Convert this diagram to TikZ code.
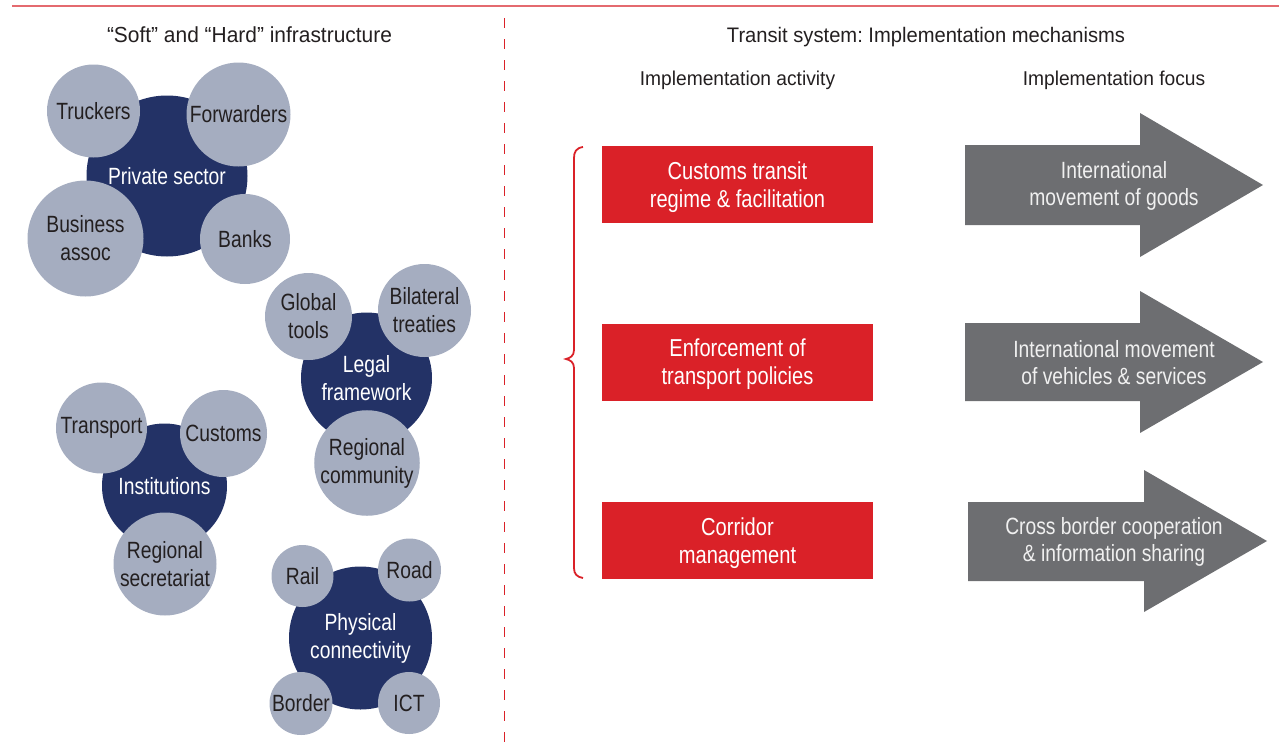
\documentclass[tikz,border=0pt]{standalone}
\usepackage{fontspec}
\setmainfont{Liberation Sans}
\newfontfamily\condf[FakeStretch=0.82]{Liberation Sans}
\newfontfamily\headf[FakeStretch=0.96]{Liberation Sans}
\definecolor{navyc}{HTML}{233266}
\definecolor{lightc}{HTML}{A5ADC0}
\definecolor{redc}{HTML}{DA2128}
\definecolor{grayc}{HTML}{6D6E71}
\definecolor{txtc}{HTML}{231F20}
\definecolor{toplinec}{HTML}{E46A6F}
\definecolor{arrtxt}{HTML}{F0F0F0}
\frenchspacing
\begin{document}
\begin{tikzpicture}[x=1pt,y=-1pt,
  hub/.style={circle, fill=navyc, text=white, inner sep=0pt, align=center, font=\condf\fontsize{23.5}{28}\selectfont},
  sat/.style={circle, fill=lightc, text=txtc, inner sep=0pt, align=center, font=\condf\fontsize{23.5}{28}\selectfont},
  actbox/.style={rectangle, fill=redc, text=white, minimum width=271pt, minimum height=77pt, inner sep=0pt, text depth=0pt, align=center, font=\condf\fontsize{24.5}{28}\selectfont},
  focusarrow/.style={fill=grayc},
  focustext/.style={text=arrtxt, align=center, inner sep=0pt, font=\condf\fontsize{23.5}{27}\selectfont},
  headtext/.style={anchor=base, inner sep=0pt, text=txtc, font=\headf\fontsize{21}{25}\selectfont},
  subhead/.style={anchor=base, inner sep=0pt, text=txtc, font=\headf\fontsize{20}{24}\selectfont},
  dashline/.style={draw=redc, line width=1.6pt, dash pattern=on 10pt off 11pt},
  bracestyle/.style={draw=redc, line width=1.8pt}
]
\useasboundingbox (0,0) rectangle (1279,750);

% top rule and divider
\coordinate (tl) at (12,6);
\coordinate (tr) at (1279,6);
\draw[toplinec, line width=1.8pt] (tl) -- (tr);
\coordinate (dtop) at (504.5,18);
\coordinate (dbot) at (504.5,750);
\draw[dashline] (dtop) -- (dbot);

% headers
\node[headtext, font=\headf\fontsize{21.8}{25}\selectfont] (h1) at (249.5,42) {“Soft” and “Hard” infrastructure};
\node[headtext] (h2) at (926,42) {Transit system: Implementation mechanisms};
\node[subhead] (h3) at (737.5,85) {Implementation activity};
\node[subhead] (h4) at (1114,85) {Implementation focus};

% Private sector cluster
\node[hub, minimum size=161pt] (priv) at (167,176) {Private sector};
\node[sat, minimum size=93pt] (truck) at (93.5,111) {Truckers};
\node[sat, minimum size=104pt] (forw) at (238.5,114.5) {Forwarders};
\node[sat, minimum size=116pt] (busi) at (85.5,238.5) {Business\\assoc};
\node[sat, minimum size=90pt] (bank) at (245,239) {Banks};

% Legal framework cluster
\node[hub, minimum size=131pt] (legal) at (366.5,378) {Legal\\framework};
\node[sat, minimum size=87pt] (glob) at (308.5,316.5) {Global\\tools};
\node[sat, minimum size=93pt] (bilat) at (424.5,310.5) {Bilateral\\treaties};
\node[sat, minimum size=100pt] (regcom) at (367,463) {Regional\\community};

% Institutions cluster
\node[hub, minimum size=125pt] (inst) at (164.5,486) {Institutions};
\node[sat, minimum size=91pt] (trans) at (101.5,428) {Transport};
\node[sat, minimum size=87pt] (cust) at (223.5,433.5) {Customs};
\node[sat, minimum size=103pt] (regsec) at (165,564) {Regional\\secretariat};

% Physical connectivity cluster
\node[hub, minimum size=143pt] (phys) at (360.5,638) {Physical\\connectivity};
\node[sat, minimum size=62pt] (rail) at (302.5,576) {Rail};
\node[sat, minimum size=63pt] (road) at (409.5,570) {Road};
\node[sat, minimum size=63pt] (bord) at (301,703.5) {Border};
\node[sat, minimum size=62pt] (ict) at (409,703) {ICT};

% brace
\coordinate (bt) at (583,147);
\coordinate (bm) at (566,359);
\coordinate (bb) at (583,578);
\draw[bracestyle] (bt) .. controls (576,148) and (574,152) .. (574,158) -- (574,350)
  .. controls (574,356) and (570,358) .. (bm)
  .. controls (570,360) and (574,362) .. (574,368) -- (574,568)
  .. controls (574,574) and (577,577) .. (bb);

% activity boxes
\node[actbox] (a1) at (737.5,184.5) {Customs transit\\regime \& facilitation};
\node[actbox] (a2) at (737.5,362) {Enforcement of\\transport policies};
\node[actbox] (a3) at (737.5,540.5) {Corridor\\management};

% focus arrows
\fill[focusarrow] (965,145) -- (1140,145) -- (1140,113) -- (1263,185) -- (1140,257) -- (1140,225) -- (965,225) -- cycle;
\fill[focusarrow] (965,323) -- (1140,323) -- (1140,291) -- (1263,362) -- (1140,433) -- (1140,401) -- (965,401) -- cycle;
\fill[focusarrow] (968,502) -- (1144,502) -- (1144,470) -- (1267,541) -- (1144,612) -- (1144,581) -- (968,581) -- cycle;
\node[focustext] (f1) at (1114,186) {International\\movement of goods};
\node[focustext] (f2) at (1114,363) {International movement\\of vehicles \& services};
\node[focustext] (f3) at (1114,542) {Cross border cooperation\\\& information sharing};
\end{tikzpicture}
\end{document}
